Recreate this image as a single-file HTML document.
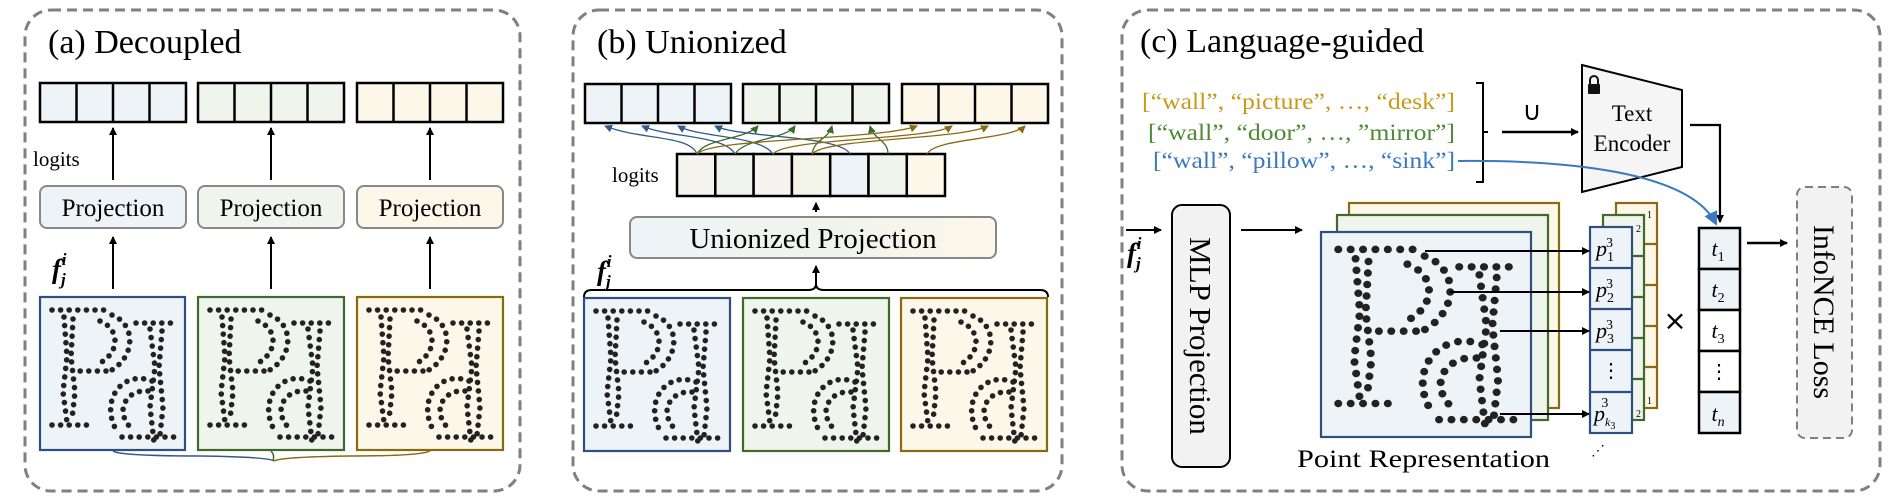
<!DOCTYPE html>
<html><head><meta charset="utf-8"><style>
html,body{margin:0;padding:0;background:#fff;}
svg{display:block;font-family:"Liberation Serif",serif;}
</style></head><body>
<svg width="1903" height="500" viewBox="0 0 1903 500" xmlns="http://www.w3.org/2000/svg">
<defs>
<marker id="ah" markerWidth="8" markerHeight="8" refX="7" refY="4" orient="auto" markerUnits="userSpaceOnUse"><path d="M0,0 L8,4 L0,8 z" fill="#000"/></marker>
<marker id="ahb" markerWidth="8" markerHeight="8" refX="7" refY="4" orient="auto" markerUnits="userSpaceOnUse"><path d="M0,0 L8,4 L0,8 z" fill="#2f5b8c"/></marker>
<marker id="ahg" markerWidth="8" markerHeight="8" refX="7" refY="4" orient="auto" markerUnits="userSpaceOnUse"><path d="M0,0 L8,4 L0,8 z" fill="#3f6a2b"/></marker>
<marker id="ahy" markerWidth="8" markerHeight="8" refX="7" refY="4" orient="auto" markerUnits="userSpaceOnUse"><path d="M0,0 L8,4 L0,8 z" fill="#8a6a10"/></marker>
<marker id="ahl" markerWidth="14" markerHeight="14" refX="12" refY="7" orient="auto" markerUnits="userSpaceOnUse"><path d="M0,0 L14,7 L0,14 z" fill="#3a78c0"/></marker>
<g id="dots" fill="none" stroke="#222" stroke-width="5.6" stroke-linecap="round" stroke-dasharray="0 8.6">
<path d="M12,13 H72"/>
<path d="M72,18 C96,27 96,60 70,74"/>
<path d="M60,24 C80,32 80,55 60,66"/>
<path d="M66,74 H36"/>
<path d="M24,20 L27,60 L23,95 L27,125"/>
<path d="M33,22 L31,60 L35,95 L32,122"/>
<path d="M12,128 H54"/>
<path d="M96,26 H138"/>
<path d="M110,32 L115,70 L110,110 L114,145"/>
<path d="M122,34 L119,70 L123,110 L120,138"/>
<path d="M112,84 C82,72 58,105 78,136"/>
<path d="M108,94 C88,92 74,112 90,130"/>
<path d="M82,140 H138"/>
</g>
<linearGradient id="gu" x1="0" x2="1"><stop offset="0" stop-color="#eef3f8"/><stop offset="0.5" stop-color="#eff4ec"/><stop offset="1" stop-color="#fdf7ea"/></linearGradient>
</defs>

<g fill="none" stroke="#808080" stroke-width="3" stroke-dasharray="10 6">
<rect x="25" y="10" width="495" height="481" rx="26"/>
<rect x="573" y="10" width="489" height="481" rx="26"/>
<rect x="1122" y="10" width="758" height="481" rx="26"/>
</g>

<!-- PANEL A -->
<text x="48" y="53" font-size="34">(a) Decoupled</text>
<g stroke="#000" stroke-width="2.5">
<g fill="#eef3f8"><rect x="40" y="83" width="146" height="39"/><line x1="76.5" y1="83" x2="76.5" y2="122"/><line x1="113" y1="83" x2="113" y2="122"/><line x1="149.5" y1="83" x2="149.5" y2="122"/></g>
<g fill="#eff4ec"><rect x="198" y="83" width="146" height="39"/><line x1="234.5" y1="83" x2="234.5" y2="122"/><line x1="271" y1="83" x2="271" y2="122"/><line x1="307.5" y1="83" x2="307.5" y2="122"/></g>
<g fill="#fdf7ea"><rect x="357" y="83" width="146" height="39"/><line x1="393.5" y1="83" x2="393.5" y2="122"/><line x1="430" y1="83" x2="430" y2="122"/><line x1="466.5" y1="83" x2="466.5" y2="122"/></g>
</g>
<g stroke="#888" stroke-width="2">
<rect x="40" y="186" width="146" height="42" rx="7" fill="#eef3f8"/>
<rect x="198" y="186" width="146" height="42" rx="7" fill="#eff4ec"/>
<rect x="357" y="186" width="146" height="42" rx="7" fill="#fdf7ea"/>
</g>
<g font-size="25" text-anchor="middle"><text x="113" y="216">Projection</text><text x="271" y="216">Projection</text><text x="430" y="216">Projection</text></g>
<text x="33" y="166" font-size="21">logits</text>
<text x="52" y="278" font-size="27" font-weight="bold" font-style="italic">f<tspan font-size="17" dy="7">j</tspan><tspan font-size="17" dx="-4" dy="-20">i</tspan></text>
<g stroke="#000" stroke-width="2" marker-end="url(#ah)">
<line x1="113" y1="180" x2="113" y2="128"/><line x1="271" y1="180" x2="271" y2="128"/><line x1="430" y1="180" x2="430" y2="128"/>
<line x1="113" y1="289" x2="113" y2="237"/><line x1="271" y1="289" x2="271" y2="237"/><line x1="430" y1="289" x2="430" y2="237"/>
</g>
<g stroke-width="2.2">
<rect x="40" y="297" width="145" height="153" fill="#eef3f8" stroke="#2f4f7f"/>
<rect x="198" y="297" width="146" height="153" fill="#eff4ec" stroke="#3f6a2b"/>
<rect x="357" y="297" width="146" height="153" fill="#fdf7ea" stroke="#8a6a10"/>
</g>
<use href="#dots" x="40" y="297"/><use href="#dots" x="198" y="297"/><use href="#dots" x="357" y="297"/>
<g fill="none" stroke-width="1.5">
<path d="M113,451 Q120,456 200,456 Q270,457 274,461" stroke="#2f5b8c"/>
<path d="M271,451 Q275,455 273,461" stroke="#3f6a2b"/>
<path d="M430,451 Q420,456 350,456 Q280,457 274,461" stroke="#8a6a10"/>
</g>

<!-- PANEL B -->
<text x="597" y="53" font-size="34">(b) Unionized</text>
<g stroke="#000" stroke-width="2.5">
<g fill="#eef3f8"><rect x="585" y="84" width="146" height="39"/><line x1="621.5" y1="84" x2="621.5" y2="123"/><line x1="658" y1="84" x2="658" y2="123"/><line x1="694.5" y1="84" x2="694.5" y2="123"/></g>
<g fill="#eff4ec"><rect x="743" y="84" width="146" height="39"/><line x1="779.5" y1="84" x2="779.5" y2="123"/><line x1="816" y1="84" x2="816" y2="123"/><line x1="852.5" y1="84" x2="852.5" y2="123"/></g>
<g fill="#fdf7ea"><rect x="902" y="84" width="146" height="39"/><line x1="938.5" y1="84" x2="938.5" y2="123"/><line x1="975" y1="84" x2="975" y2="123"/><line x1="1011.5" y1="84" x2="1011.5" y2="123"/></g>
<rect x="677" y="154" width="38.3" height="42" fill="#f6f4ee"/>
<rect x="715.3" y="154" width="38.3" height="42" fill="#eef3f0"/>
<rect x="753.6" y="154" width="38.3" height="42" fill="#f5f4f0"/>
<rect x="791.9" y="154" width="38.3" height="42" fill="#f4f5e9"/>
<rect x="830.2" y="154" width="38.3" height="42" fill="#eef3f8"/>
<rect x="868.5" y="154" width="38.3" height="42" fill="#eff4ec"/>
<rect x="906.8" y="154" width="38.2" height="42" fill="#fdf7ea"/>
</g>
<text x="612" y="182" font-size="21">logits</text>
<g fill="none" stroke-width="1.3">
<g stroke="#2f5b8c" marker-end="url(#ahb)">
<path d="M697,154 C690,135 640,140 605,126"/>
<path d="M735,154 C725,135 670,138 642,126"/>
<path d="M773,154 C760,135 700,138 678,126"/>
<path d="M850,154 C840,135 740,138 715,126"/>
</g>
<g stroke="#3f6a2b" marker-end="url(#ahg)">
<path d="M697,154 C705,138 745,140 758,126"/>
<path d="M735,154 C745,138 785,140 795,126"/>
<path d="M812,154 C815,138 828,140 832,126"/>
<path d="M888,154 C888,140 874,140 870,126"/>
</g>
<g stroke="#8a6a10" marker-end="url(#ahy)">
<path d="M697,154 C710,138 880,140 917,126"/>
<path d="M773,154 C785,138 930,140 952,126"/>
<path d="M812,154 C825,138 960,140 988,126"/>
<path d="M927,154 C935,138 1010,140 1025,126"/>
</g>
</g>
<rect x="630" y="217" width="366" height="41" rx="7" fill="url(#gu)" stroke="#888" stroke-width="2"/>
<text x="813" y="248" font-size="29" text-anchor="middle">Unionized Projection</text>
<g stroke="#000" stroke-width="2" marker-end="url(#ah)">
<line x1="816" y1="212" x2="816" y2="203"/>
<line x1="816" y1="287" x2="816" y2="266"/>
</g>
<path d="M584,297 Q584,290 592,290 L808,290 Q816,290 816,284 Q816,290 824,290 L1040,290 Q1048,290 1048,297" fill="none" stroke="#000" stroke-width="2"/>
<text x="597" y="280" font-size="27" font-weight="bold" font-style="italic">f<tspan font-size="17" dy="7">j</tspan><tspan font-size="17" dx="-4" dy="-20">i</tspan></text>
<g stroke-width="2.2">
<rect x="584" y="298" width="146" height="153" fill="#eef3f8" stroke="#2f4f7f"/>
<rect x="743" y="298" width="146" height="153" fill="#eff4ec" stroke="#3f6a2b"/>
<rect x="901" y="298" width="146" height="153" fill="#fdf7ea" stroke="#8a6a10"/>
</g>
<use href="#dots" x="584" y="298"/><use href="#dots" x="743" y="298"/><use href="#dots" x="901" y="298"/>

<!-- PANEL C -->
<text x="1140" y="52" font-size="34">(c) Language-guided</text>
<g font-size="23">
<text x="1142" y="109" fill="#c89a1a" textLength="313" lengthAdjust="spacingAndGlyphs">[“wall”, “picture”, …, “desk”]</text>
<text x="1148" y="140" fill="#4e8a35" textLength="307" lengthAdjust="spacingAndGlyphs">[“wall”, “door”, …, ”mirror”]</text>
<text x="1153" y="168" fill="#3a78c0" textLength="302" lengthAdjust="spacingAndGlyphs">[“wall”, “pillow”, …, “sink”]</text>
</g>
<path d="M1476,83 H1483 V182 H1476 M1483,132 H1488" fill="none" stroke="#000" stroke-width="2"/>
<line x1="1502" y1="132" x2="1578" y2="132" stroke="#000" stroke-width="2.5" marker-end="url(#ah)"/>
<text x="1532" y="120" font-size="26" font-family="DejaVu Sans" text-anchor="middle">∪</text>
<path d="M1582,65 L1682,90 L1682,167 L1582,192 Z" fill="#f5f5f5" stroke="#000" stroke-width="2"/>
<g fill="#111"><rect x="1588" y="84" width="12" height="10" rx="1"/><path d="M1590,85 V80 a4,4 0 0 1 8,0 V85" fill="none" stroke="#111" stroke-width="2"/></g>
<text x="1632" y="121" font-size="23" text-anchor="middle">Text</text>
<text x="1632" y="151" font-size="23" text-anchor="middle">Encoder</text>
<path d="M1690,125 H1720 V222" fill="none" stroke="#000" stroke-width="2.2" marker-end="url(#ah)"/>
<path d="M1458,161 C1560,160 1690,170 1716,224" fill="none" stroke="#3a78c0" stroke-width="2" marker-end="url(#ahl)"/>

<text x="1127" y="262" font-size="27" font-weight="bold" font-style="italic">f<tspan font-size="17" dy="7">j</tspan><tspan font-size="17" dx="-4" dy="-20">i</tspan></text>
<line x1="1126" y1="230" x2="1161" y2="230" stroke="#000" stroke-width="2" marker-end="url(#ah)"/>
<rect x="1172" y="205" width="58" height="262" rx="10" fill="#f2f2f2" stroke="#000" stroke-width="2"/>
<text transform="translate(1190,336) rotate(90)" font-size="31" text-anchor="middle">MLP Projection</text>
<line x1="1241" y1="230" x2="1302" y2="230" stroke="#000" stroke-width="2" marker-end="url(#ah)"/>

<rect x="1349" y="203" width="210" height="205" fill="#fdf7ea" stroke="#8a6a10" stroke-width="2.2"/>
<rect x="1337" y="215" width="211" height="205" fill="#eff4ec" stroke="#3f6a2b" stroke-width="2.2"/>
<rect x="1321" y="232" width="210" height="205" fill="#eef3f8" stroke="#2f4f7f" stroke-width="2.2"/>
<use href="#dots" transform="translate(1321,232) scale(1.44,1.34)"/>
<text x="1297" y="467" font-size="25" textLength="253" lengthAdjust="spacingAndGlyphs">Point Representation</text>

<g stroke-width="2.2">
<rect x="1616" y="203" width="41" height="205" fill="#fdf7ea" stroke="#8a6a10"/>
<g stroke="#8a6a10"><line x1="1616" y1="244" x2="1657" y2="244"/><line x1="1616" y1="285" x2="1657" y2="285"/><line x1="1616" y1="326" x2="1657" y2="326"/><line x1="1616" y1="367" x2="1657" y2="367"/></g>
<rect x="1603" y="215" width="41" height="205" fill="#eff4ec" stroke="#3f6a2b"/>
<g stroke="#3f6a2b"><line x1="1603" y1="256" x2="1644" y2="256"/><line x1="1603" y1="297" x2="1644" y2="297"/><line x1="1603" y1="338" x2="1644" y2="338"/><line x1="1603" y1="379" x2="1644" y2="379"/></g>
<rect x="1590" y="227" width="42" height="206" fill="#eef3f8" stroke="#2f4f7f"/>
<g stroke="#2f4f7f"><line x1="1590" y1="268" x2="1632" y2="268"/><line x1="1590" y1="309" x2="1632" y2="309"/><line x1="1590" y1="350" x2="1632" y2="350"/><line x1="1590" y1="392" x2="1632" y2="392"/></g>
</g>
<g font-size="10"><text x="1647" y="218">1</text><text x="1636" y="232">2</text><text x="1647" y="404">1</text><text x="1636" y="417">2</text></g>
<g font-size="22" font-style="italic">
<text x="1596" y="256">p<tspan font-size="14" font-style="normal" dy="5">1</tspan><tspan font-size="14" font-style="normal" dx="-8" dy="-14">3</tspan></text>
<text x="1596" y="297">p<tspan font-size="14" font-style="normal" dy="5">2</tspan><tspan font-size="14" font-style="normal" dx="-8" dy="-14">3</tspan></text>
<text x="1596" y="338">p<tspan font-size="14" font-style="normal" dy="5">3</tspan><tspan font-size="14" font-style="normal" dx="-8" dy="-14">3</tspan></text>
<text x="1594" y="421">p<tspan font-size="12" dy="5">k</tspan><tspan font-size="10" font-style="normal" dy="3">3</tspan><tspan font-size="14" font-style="normal" dx="-14" dy="-22">3</tspan></text>
</g>
<text x="1611" y="377" font-size="20" text-anchor="middle">⋮</text>
<g stroke="#000" stroke-width="2" marker-end="url(#ah)">
<line x1="1425" y1="251" x2="1589" y2="251"/>
<line x1="1450" y1="292" x2="1589" y2="292"/>
<line x1="1500" y1="331" x2="1589" y2="331"/>
<line x1="1500" y1="414" x2="1589" y2="414"/>
</g>
<text x="1675" y="330" font-size="28" font-family="DejaVu Sans" text-anchor="middle">×</text>
<text x="1598" y="455" font-size="14" text-anchor="middle">⋰</text>

<g stroke="#000" stroke-width="2.5">
<rect x="1699" y="228" width="41" height="41" fill="#eef3f8"/>
<rect x="1699" y="269" width="41" height="41" fill="#eef3f8"/>
<rect x="1699" y="310" width="41" height="41" fill="#fff"/>
<rect x="1699" y="351" width="41" height="41" fill="#fff"/>
<rect x="1699" y="392" width="41" height="41" fill="#eef3f8"/>
</g>
<g font-size="22" font-style="italic" text-anchor="middle">
<text x="1718" y="256">t<tspan font-size="14" font-style="normal" dy="5">1</tspan></text>
<text x="1718" y="297">t<tspan font-size="14" font-style="normal" dy="5">2</tspan></text>
<text x="1718" y="338">t<tspan font-size="14" font-style="normal" dy="5">3</tspan></text>
<text x="1718" y="421">t<tspan font-size="14" dy="5">n</tspan></text>
</g>
<text x="1719" y="378" font-size="20" text-anchor="middle">⋮</text>
<line x1="1747" y1="243" x2="1787" y2="243" stroke="#000" stroke-width="2.5" marker-end="url(#ah)"/>
<rect x="1797" y="187" width="55" height="251" rx="8" fill="#f2f2f2" stroke="#808080" stroke-width="2" stroke-dasharray="8 5"/>
<text transform="translate(1814,312) rotate(90)" font-size="30" text-anchor="middle">InfoNCE Loss</text>
</svg>
</body></html>
